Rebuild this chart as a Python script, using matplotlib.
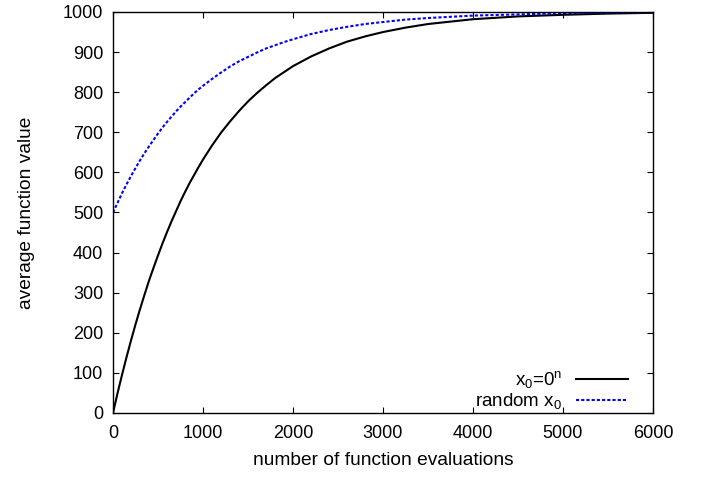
import matplotlib
matplotlib.use("Agg")
import matplotlib.pyplot as plt

plt.rcParams['font.family'] = ['Liberation Sans', 'DejaVu Sans']
plt.rcParams['mathtext.default'] = 'regular'

# values
evals = [0, 50, 100, 150, 200, 250, 300, 350, 400, 450, 500, 550, 600, 650,
         700, 750, 800, 850, 900, 950, 1000, 1100, 1200, 1300, 1400, 1500,
         1600, 1700, 1800, 1900, 2000, 2200, 2400, 2600, 2800, 3000, 3250,
         3500, 3750, 4000, 4500, 5000, 5500, 6000]
zero_start = [0, 49, 95, 139, 181, 221, 259, 295, 330, 362, 393, 423, 451, 478,
              503, 528, 551, 573, 593, 613, 632, 667, 699, 727, 753, 777,
              798, 817, 835, 850, 865, 889, 909, 926, 939, 950, 961,
              970, 976, 982, 989, 993, 996, 998]
random_start = [500, 524, 548, 570, 591, 611, 630, 648, 665, 681, 697, 712, 726, 739,
                752, 764, 775, 786, 797, 807, 816, 833, 849, 864, 877, 888,
                899, 909, 917, 925, 932, 945, 955, 963, 970, 975, 981,
                985, 988, 991, 994, 997, 998, 999]

xticks = [0, 1000, 2000, 3000, 4000, 5000, 6000]
yticks = [0, 100, 200, 300, 400, 500, 600, 700, 800, 900, 1000]

fig = plt.figure(figsize=(7.05, 4.78), dpi=100)
ax = fig.add_axes([0.1603, 0.136, 0.7659, 0.8389])

ax.plot(evals, zero_start, color='black', lw=1.5, label='x$_0$=0$^n$')
ax.plot(evals, random_start, color='#0000ff', lw=1.5, dashes=(1.5, 1),
        label='random x$_0$')

ax.set_xlim(0, 6000)
ax.set_ylim(0, 1000)
ax.set_xticks(xticks)
ax.set_yticks(yticks)
ax.tick_params(direction='in', length=4.5, width=0.8, top=True, right=True,
               labelsize=13)
ax.tick_params(axis='x', pad=9)
ax.tick_params(axis='y', pad=7)
for s in ax.spines.values():
    s.set_linewidth(1)

ax.set_xlabel('number of function evaluations', fontsize=13.8, labelpad=7)
ax.set_ylabel('average function value', fontsize=13.8, labelpad=20)

ax.legend(loc='lower right', bbox_to_anchor=(0.968, -0.014), frameon=False,
          markerfirst=False, fontsize=13.5, handlelength=2.8, labelspacing=0.05,
          borderaxespad=0, handletextpad=0.7)

fig.savefig('out.png', dpi=100)
